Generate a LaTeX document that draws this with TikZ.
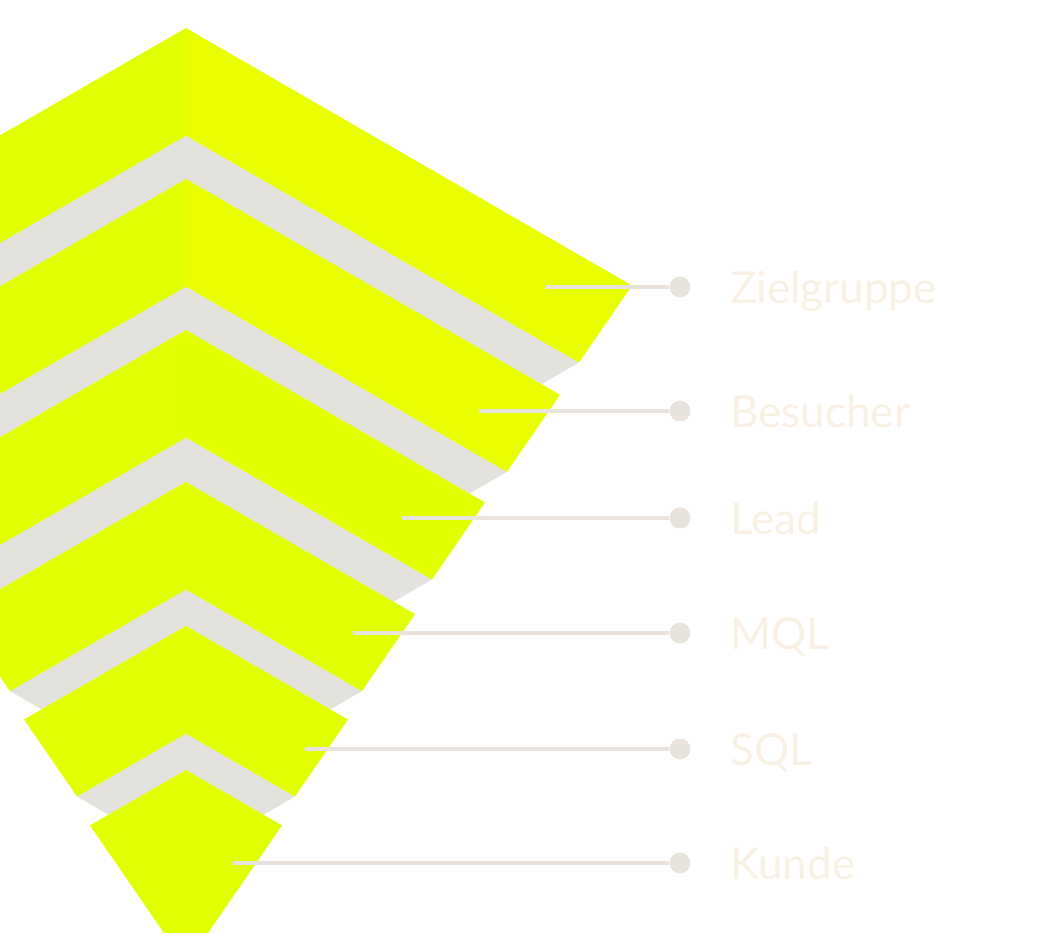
\documentclass[tikz,border=0pt]{standalone}
\usepackage{fontspec}
\setmainfont{Lato}
\definecolor{limeL}{HTML}{E1FF00}
\definecolor{limeR}{HTML}{E9FF00}
\definecolor{limeM}{HTML}{E3FF00}
\definecolor{shadow}{HTML}{E3E2DC}
\definecolor{leadline}{HTML}{E8E4DD}
\definecolor{labeltext}{HTML}{F8F1E3}
\begin{document}
\begin{tikzpicture}[x=1pt, y=-1pt]
	\tikzset{sh/.style={fill=shadow},
	lead/.style={draw=leadline, line width=4pt},
	dot/.style={circle, fill=leadline, inner sep=0pt, minimum size=21pt},
	lbl/.style={anchor=base west, text=labeltext, inner sep=0pt, font=\fontsize{44}{52}\selectfont}};

	\useasboundingbox (0,0) rectangle (1064,933);
	\begin{scope}
	\clip (0,0) rectangle (1064,933);

	% shadows between the stages
	\fill[sh] (186,135.7) -- (579,362.5) -- (541.5,384.1) -- (186,179) -- (-169.5,384.1) -- (-207,362.5) -- cycle;
	\fill[sh] (186,286.6) -- (507,471.8) -- (469.4,493.5) -- (186,330) -- (-97.4,493.5) -- (-135,471.8) -- cycle;
	\fill[sh] (186,437.6) -- (432,579.5) -- (393.5,601.7) -- (186,482) -- (-21.5,601.7) -- (-60,579.5) -- cycle;
	\fill[sh] (186,589.5) -- (362,691.1) -- (330.4,709.3) -- (186,626) -- (41.6,709.3) -- (10,691.1) -- cycle;
	\fill[sh] (186,733.6) -- (295,796.5) -- (263.5,814.7) -- (186,770) -- (108.5,814.7) -- (77,796.5) -- cycle;

	% stages, left halves
	\fill[limeL] (186,28) -- (-260,285.5) -- (-207,362.5) -- (186,135.7) -- cycle;
	\fill[limeL] (186,179) -- (-188,394.8) -- (-135,471.8) -- (186,286.6) -- cycle;
	\fill[limeL] (186,330) -- (-113,502.5) -- (-60,579.5) -- (186,437.6) -- cycle;
	\fill[limeL] (186,482) -- (-43,614.1) -- (10,691.1) -- (186,589.5) -- cycle;
	\fill[limeL] (186,626) -- (24,719.5) -- (77,796.5) -- (186,733.6) -- cycle;
	\fill[limeL] (186,770) -- (90,825.4) -- (186,965) -- cycle;

	% stages, right halves
	\fill[limeR] (186,28) -- (632,285.5) -- (579,362.5) -- (186,135.7) -- cycle;
	\fill[limeR] (186,179) -- (560,394.8) -- (507,471.8) -- (186,286.6) -- cycle;
	\fill[limeM] (186,330) -- (485,502.5) -- (432,579.5) -- (186,437.6) -- cycle;
	\fill[limeL] (186,482) -- (415,614.1) -- (362,691.1) -- (186,589.5) -- cycle;
	\fill[limeL] (186,626) -- (348,719.5) -- (295,796.5) -- (186,733.6) -- cycle;
	\fill[limeL] (186,770) -- (282,825.4) -- (186,965) -- cycle;
	\end{scope}

	% labels
	\node[dot] (zielgruppe) at (680,287) {};
	\node[dot] (besucher) at (680,411) {};
	\node[dot] (lead) at (680,518) {};
	\node[dot] (mql) at (680,633) {};
	\node[dot] (sql) at (680,749) {};
	\node[dot] (kunde) at (680,863) {};

	\node[lbl] (zielgruppe-t) at (730,303) {Zielgruppe};
	\node[lbl] (besucher-t) at (730,427) {Besucher};
	\node[lbl] (lead-t) at (730,534) {Lead};
	\node[lbl] (mql-t) at (730,649) {MQL};
	\node[lbl] (sql-t) at (730,765) {SQL};
	\node[lbl] (kunde-t) at (730,879) {Kunde};

	\coordinate (zielgruppe-s) at (546,287);
	\coordinate (besucher-s) at (479,411);
	\coordinate (lead-s) at (402,518);
	\coordinate (mql-s) at (353,633);
	\coordinate (sql-s) at (305,749);
	\coordinate (kunde-s) at (233,863);

	\draw[lead] (zielgruppe-s) -- (zielgruppe);
	\draw[lead] (besucher-s) -- (besucher);
	\draw[lead] (lead-s) -- (lead);
	\draw[lead] (mql-s) -- (mql);
	\draw[lead] (sql-s) -- (sql);
	\draw[lead] (kunde-s) -- (kunde);
\end{tikzpicture}
\end{document}
